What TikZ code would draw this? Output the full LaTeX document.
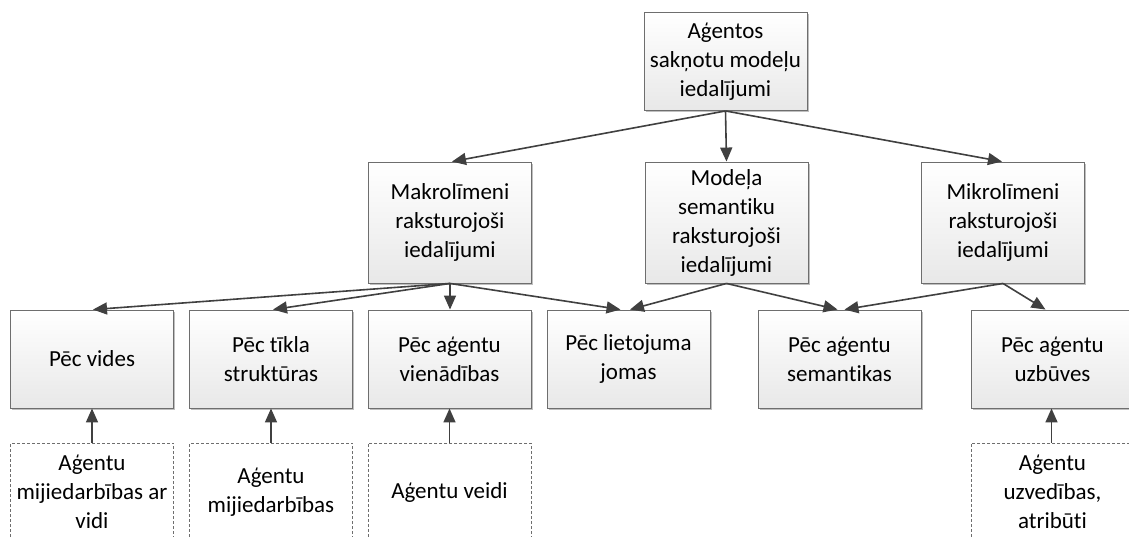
\documentclass[tikz,border=0pt]{standalone}
\usepackage{fontspec}
\setmainfont[Ligatures=NoCommon]{Carlito}
\usetikzlibrary{arrows.meta,shadows}
\definecolor{boxline}{HTML}{6E6E6E}
\definecolor{boxfill}{HTML}{E8E8E8}
\definecolor{arrowcol}{HTML}{404040}
\begin{document}
\begin{tikzpicture}[x=1pt,y=-1pt,
  txt/.style={align=center, inner sep=0pt, font=\fontsize{23}{29}\selectfont},
  box/.style={txt, draw=boxline, line width=0.9pt, top color=white, bottom color=boxfill,
    minimum width=163pt,
    drop shadow={shadow xshift=1.8pt, shadow yshift=-1.8pt, fill=black!45, opacity=0.55}},
  dbox/.style={txt, draw=boxline, line width=0.8pt, dashed, dash pattern=on 3pt off 2pt,
    fill=white, minimum width=163pt, minimum height=98pt},
  link/.style={draw=arrowcol, line width=1.6pt,
    -{Triangle[length=14pt,width=12pt]}, color=arrowcol}
]
\clip (0,0) rectangle (1129,537);
\fill[white] (0,0) rectangle (1129,537);

% top level
\node[box, minimum height=98pt] (root) at (725.5,61.5) {Aģentos\\sakņotu modeļu\\iedalījumi};

% second level
\node[box, minimum height=121pt] (makro) at (450,222.5) {Makrolīmeni\\raksturojoši\\iedalījumi};
\node[box, minimum height=121pt] (model) at (726.5,222.5) {Modeļa\\semantiku\\raksturojoši\\iedalījumi};
\node[box, minimum height=121pt] (mikro) at (1003,222.5) {Mikrolīmeni\\raksturojoši\\iedalījumi};

% third level
\node[box, minimum height=98pt] (vides) at (92,359) {Pēc vides};
\node[box, minimum height=98pt] (tikla) at (271,359) {Pēc tīkla\\struktūras};
\node[box, minimum height=98pt] (vienad) at (449.5,359) {Pēc aģentu\\vienādības};
\node[box, minimum height=98pt] (lietoj) at (628.5,359) {Pēc lietojuma\\jomas};
\node[box, minimum height=98pt] (seman) at (839.5,359) {Pēc aģentu\\semantikas};
\node[box, minimum height=98pt] (uzbuv) at (1052.5,359) {Pēc aģentu\\uzbūves};

% dashed source boxes
\node[dbox] (d1) at (92,492) {Aģentu\\mijiedarbības ar\\vidi};
\node[dbox] (d2) at (271,492) {Aģentu\\mijiedarbības};
\node[dbox] (d3) at (449.5,492) {Aģentu veidi};
\node[dbox] (d4) at (1052.5,492) {Aģentu\\uzvedības,\\atribūti};

% connectors
\draw[link] (root.south) -- ([xshift=2pt]makro.north);
\draw[link] (root.south) -- (model.north);
\draw[link] (root.south) -- ([xshift=-1pt]mikro.north);

\draw[link] (makro.south) -- ([xshift=1pt]vides.north);
\draw[link] (makro.south) -- ([xshift=2pt]tikla.north);
\draw[link] (makro.south) -- ([xshift=0.5pt]vienad.north);
\draw[link] (makro.south) -- ([xshift=-8pt]lietoj.north);

\draw[link] (model.south) -- ([xshift=1.5pt]lietoj.north);
\draw[link] (model.south) -- ([xshift=-2pt]seman.north);

\draw[link] (mikro.south) -- ([xshift=5pt]seman.north);
\draw[link] (mikro.south) -- ([xshift=-7pt]uzbuv.north);

\draw[link] (d1.north) -- (vides.south);
\draw[link] (d2.north) -- (tikla.south);
\draw[link] (d3.north) -- (vienad.south);
\draw[link] ([xshift=-1pt]d4.north) -- ([xshift=-1pt]uzbuv.south);
\end{tikzpicture}
\end{document}
